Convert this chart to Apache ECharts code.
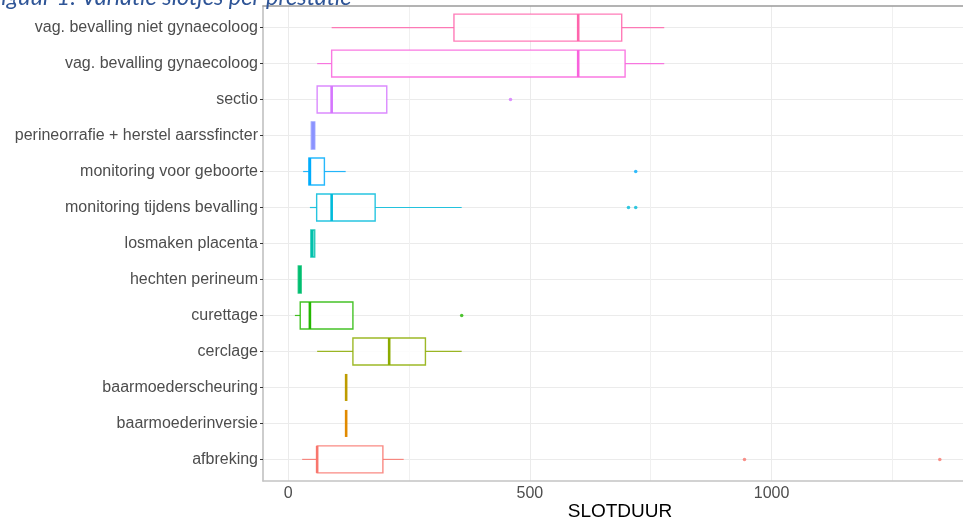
<!DOCTYPE html>
<html>
<head>
<meta charset="utf-8">
<script src="https://cdn.jsdelivr.net/npm/echarts@6/dist/echarts.min.js"></script>
<style>
  html, body { margin: 0; padding: 0; background: #fff; }
  #chart { width: 963px; height: 520px; }
</style>
</head>
<body>
<div id="chart"></div>
<script>
// categorieen van onder naar boven (zoals ggplot ze tekent)
const categories = [
  'afbreking', 'baarmoederinversie', 'baarmoederscheuring', 'cerclage', 'curettage',
  'hechten perineum', 'losmaken placenta', 'monitoring tijdens bevalling',
  'monitoring voor geboorte', 'perineorrafie + herstel aarssfincter', 'sectio',
  'vag. bevalling gynaecoloog', 'vag. bevalling niet gynaecoloog'
];
// [min, Q1, mediaan, Q3, max] per categorie
const whiskerLow = [29, 120, 120, 60, 14, 21, 47, 45, 31, 48, 60, 60, 90];
const q1Values   = [60, 120, 120, 134, 25, 21, 47, 59, 43, 48, 60, 90, 343];
const medians    = [60, 120, 120, 209, 45, 24, 50, 90, 45, 52, 90, 600, 600];
const q3Values   = [196, 120, 120, 284, 134, 27, 55, 180, 75, 55, 204, 697, 690];
const whiskerHigh = [239, 120, 120, 359, 134, 27, 55, 359, 119, 55, 204, 778, 778];
// uitschieters
const outlierCat = [0, 0, 4, 7, 7, 8, 10];
const outlierVal = [944, 1348, 359, 704, 719, 719, 460];
const xLabels = [0, 500, 1000];
const xMinor = [250, 750, 1250];

// ggplot standaard kleuren (hue_pal, 13 groepen)
const colors = ['#F8766D', '#E18A00', '#BE9C00', '#8CAB00', '#24B700', '#00BE70', '#00C1AB',
  '#00BBDA', '#00ACFC', '#8B93FF', '#D575FE', '#F962DD', '#FF65AC'];

const boxData = categories.map((c, i) => [i, whiskerLow[i], q1Values[i], medians[i], q3Values[i], whiskerHigh[i]]);
const outlierData = outlierCat.map((c, i) => [outlierVal[i], c]);
const catTicks = categories.map((c, i) => i);

const chart = echarts.init(document.getElementById('chart'));
chart.setOption({
  animation: false,
  title: {
    text: 'Figuur 1: Variatie slotjes per prestatie',
    left: -11,
    top: -14,
    padding: 0,
    textStyle: { fontFamily: 'Lato', fontStyle: 'italic', fontWeight: 'normal', fontSize: 23.5, color: '#2f5597' }
  },
  grid: { left: 263, right: 0, top: 6, bottom: 39, outerBoundsMode: 'none', containLabel: false },
  xAxis: [
    {
      type: 'value', min: -52, max: 1396,
      axisLine: { show: true, onZero: false, lineStyle: { color: '#c4c4c4', width: 1.5 } },
      axisTick: { show: false, customValues: xLabels },
      axisLabel: { customValues: xLabels, color: '#4d4d4d', fontSize: 16, fontFamily: 'Liberation Sans', margin: 5,
        formatter: v => String(v) },
      splitLine: { show: true, lineStyle: { color: '#ebebeb', width: 1 } },
      name: 'SLOTDUUR', nameLocation: 'middle', nameGap: 21, nameMoveOverlap: false,
      nameTextStyle: { color: '#000', fontSize: 19, fontFamily: 'Liberation Sans', padding: [0, 0, 0, 14] }
    },
    {
      type: 'value', min: -52, max: 1396, position: 'top',
      axisLine: { show: true, onZero: false, lineStyle: { color: '#9a9a9a', width: 1.5 } },
      axisTick: { show: false, customValues: xMinor },
      axisLabel: { show: false },
      splitLine: { show: true, lineStyle: { color: '#f0f0f0', width: 1 } }
    }
  ],
  yAxis: {
    type: 'value', min: -0.6, max: 12.6,
    axisLine: { show: true, onZero: false, lineStyle: { color: '#bdbdbd', width: 1.5 } },
    axisTick: { show: true, customValues: catTicks, length: 3, lineStyle: { color: '#333' } },
    axisLabel: {
      customValues: catTicks, color: '#4d4d4d', fontSize: 16, fontFamily: 'Liberation Sans', margin: 5,
      formatter: v => categories[Math.round(v)]
    },
    splitLine: { show: true, lineStyle: { color: '#ebebeb', width: 1 } }
  },
  series: [
    {
      type: 'custom',
      data: boxData,
      encode: { x: [1, 2, 3, 4, 5], y: 0 },
      renderItem: function (params, api) {
        const cat = api.value(0);
        const lo = api.coord([api.value(1), cat]);
        const q1 = api.coord([api.value(2), cat]);
        const md = api.coord([api.value(3), cat]);
        const q3 = api.coord([api.value(4), cat]);
        const hi = api.coord([api.value(5), cat]);
        const h = api.size([0, 0.75])[1];
        const col = colors[cat];
        return {
          type: 'group',
          children: [
            { type: 'line', shape: { x1: lo[0], y1: lo[1], x2: q1[0], y2: q1[1] }, style: { stroke: col, lineWidth: 1.2, opacity: 0.85 } },
            { type: 'line', shape: { x1: q3[0], y1: q3[1], x2: hi[0], y2: hi[1] }, style: { stroke: col, lineWidth: 1.2, opacity: 0.85 } },
            { type: 'rect', shape: { x: q1[0], y: q1[1] - h / 2, width: q3[0] - q1[0], height: h },
              style: { fill: '#fff', stroke: col, lineWidth: 1.4, opacity: 0.85 } },
            { type: 'line', shape: { x1: md[0], y1: md[1] - h / 2, x2: md[0], y2: md[1] + h / 2 },
              style: { stroke: col, lineWidth: 2.6 } }
          ]
        };
      }
    },
    {
      type: 'scatter',
      data: outlierData,
      symbolSize: 3.5,
      itemStyle: { color: p => colors[p.value[1]] }
    }
  ]
});
</script>
</body>
</html>
